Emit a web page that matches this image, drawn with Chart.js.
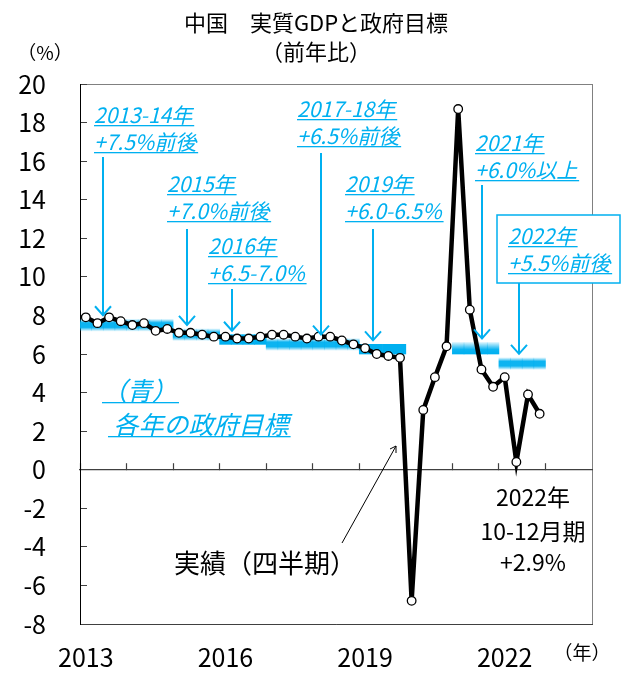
<!DOCTYPE html>
<html lang="ja">
<head>
<meta charset="utf-8">
<title>中国 実質GDPと政府目標</title>
<script src="https://cdn.jsdelivr.net/npm/chart.js@4.4.1/dist/chart.umd.min.js"></script>
<style>
  html, body { margin: 0; padding: 0; background: #fff; }
  #wrap { width: 628px; height: 680px; position: relative; }
</style>
</head>
<body>
<div id="wrap"><canvas id="chart"></canvas></div>
<script>
// 四半期の横軸（2023年は空き）
const years = ['2013', '2014', '2015', '2016', '2017', '2018', '2019', '2020', '2021', '2022', '2023'];
const quarterNames = ['Q1', 'Q2', 'Q3', 'Q4'];
const quarters = years.flatMap((y) => quarterNames.map((q) => y + q));
const xTickYears = ['2013', '2016', '2019', '2022'];

// 実質GDP 前年比（%）2013Q1〜2022Q4
const gdpValues = [
    7.9, 7.6, 7.9, 7.7,
    7.5, 7.6, 7.2, 7.3,
    7.1, 7.1, 7.0, 6.9,
    6.9, 6.8, 6.8, 6.9,
    7.0, 7.0, 6.9, 6.8,
    6.9, 6.9, 6.7, 6.5,
    6.3, 6.0, 5.9, 5.8,
    -6.8, 3.1, 4.8, 6.4,
    18.7, 8.3, 5.2, 4.3,
    4.8, 0.4, 3.9, 2.9,
];

// 政府目標（帯の下端・上端）
const targetYears = ['2013', '2014', '2015', '2016', '2017', '2018', '2019', '2020', '2021', '2022'];
const targetLow = [7.2, 7.2, 6.7, 6.5, 6.2, 6.2, 6.0, null, 6.0, 5.2];
const targetHigh = [7.8, 7.8, 7.3, 7.0, 6.8, 6.8, 6.5, null, 6.6, 5.8];
const targetType = ['about', 'about', 'about', 'range', 'about', 'about', 'range', null, 'min', 'about'];

const BLUE = '#00B0F0';
const JP = '"Noto Sans CJK JP", "Noto Sans", sans-serif';

const targetBars = quarters.map((q) => {
    const i = targetYears.indexOf(q.slice(0, 4));
    return i >= 0 && targetLow[i] != null ? [targetLow[i], targetHigh[i]] : null;
});

const bandColor = (c) => {
    const chart = c.chart;
    if (!chart.chartArea || !c.raw) return BLUE;
    const type = targetType[targetYears.indexOf(quarters[c.dataIndex].slice(0, 4))];
    if (type === 'range') return BLUE;
    const top = chart.scales.y.getPixelForValue(c.raw[1]);
    const bottom = chart.scales.y.getPixelForValue(c.raw[0]);
    const g = chart.ctx.createLinearGradient(0, top, 0, bottom);
    if (type === 'min') {
        g.addColorStop(0, 'rgba(0,176,240,0.15)');
        g.addColorStop(0.6, 'rgba(0,176,240,0.95)');
        g.addColorStop(1, 'rgba(0,176,240,1)');
    } else {
        g.addColorStop(0, 'rgba(0,176,240,0.12)');
        g.addColorStop(0.3, 'rgba(0,176,240,0.95)');
        g.addColorStop(0.7, 'rgba(0,176,240,0.95)');
        g.addColorStop(1, 'rgba(0,176,240,0.12)');
    }
    return g;
};

// 目標ラベル：文字位置と矢印のx（矢印の先は目標値から求める）
const goalNotes = [
    { lines: ['2013-14年', '+7.5%前後'], x: 94, y: 123, arrowX: 103, from: 157, year: '2013' },
    { lines: ['2015年', '+7.0%前後'], x: 167, y: 192, arrowX: 187, from: 229, year: '2015' },
    { lines: ['2016年', '+6.5-7.0%'], x: 208, y: 254, arrowX: 232, from: 289, year: '2016' },
    { lines: ['2017-18年', '+6.5%前後'], x: 297, y: 117, arrowX: 321, from: 153, year: '2017' },
    { lines: ['2019年', '+6.0-6.5%'], x: 345, y: 192, arrowX: 373, from: 229, year: '2019' },
    { lines: ['2021年', '+6.0%以上'], x: 475, y: 151, arrowX: 482, from: 185, year: '2021' },
    { lines: ['2022年', '+5.5%前後'], x: 508, y: 244, arrowX: 519, from: 283, year: '2022', box: [497, 215, 123, 68] },
];

const arrowDown = (ctx, x, y0, y1) => {
    ctx.beginPath();
    ctx.moveTo(x, y0);
    ctx.lineTo(x, y1);
    ctx.stroke();
    ctx.beginPath();
    ctx.moveTo(x - 8, y1 - 9);
    ctx.lineTo(x, y1);
    ctx.lineTo(x + 8, y1 - 9);
    ctx.stroke();
};

const underlined = (ctx, text, x, y) => {
    ctx.fillText(text, x, y);
    const w = ctx.measureText(text).width;
    ctx.fillRect(x, y + 2, w + 2, 1.3);
};

const framePlugin = {
    id: 'frame',
    beforeDraw(chart) {
        const { ctx, chartArea: a } = chart;
        ctx.save();
        ctx.strokeStyle = '#808080';
        ctx.lineWidth = 1;
        ctx.strokeRect(a.left + 0.5, a.top + 0.5, a.right - a.left, a.bottom - a.top);
        ctx.restore();
    },
};

const notesPlugin = {
    id: 'notes',
    afterDraw(chart) {
        const ctx = chart.ctx;
        const ys = chart.scales.y;
        ctx.save();

        ctx.fillStyle = '#000';
        ctx.textAlign = 'center';
        ctx.font = `22px ${JP}`;
        ctx.fillText('中国　実質GDPと政府目標', 316, 31);
        ctx.fillText('（前年比）', 316, 60);
        ctx.font = `19px ${JP}`;
        ctx.fillText('（%）', 45, 60);
        ctx.fillText('（年）', 582, 660);

        ctx.font = `23px ${JP}`;
        ctx.fillText('2022年', 533, 506);
        ctx.fillText('10-12月期', 533, 540);
        ctx.fillText('+2.9%', 533, 571);

        ctx.textAlign = 'left';
        ctx.font = `26px ${JP}`;
        ctx.fillText('実績（四半期）', 174, 573);

        // 実績への矢印
        ctx.strokeStyle = '#000';
        ctx.lineWidth = 1;
        ctx.beginPath();
        ctx.moveTo(342, 543);
        ctx.lineTo(396, 446);
        ctx.moveTo(390, 449);
        ctx.lineTo(396, 446);
        ctx.lineTo(396, 453);
        ctx.stroke();

        // 政府目標の注記
        ctx.strokeStyle = BLUE;
        ctx.fillStyle = BLUE;
        goalNotes.forEach((n) => {
            if (n.box) {
                ctx.save();
                ctx.fillStyle = '#fff';
                ctx.fillRect(n.box[0], n.box[1], n.box[2], n.box[3]);
                ctx.lineWidth = 1.5;
                ctx.strokeRect(n.box[0], n.box[1], n.box[2], n.box[3]);
                ctx.restore();
            }
            ctx.font = `italic 21px ${JP}`;
            n.lines.forEach((t, k) => underlined(ctx, t, n.x, n.y + k * 27));
            const i = targetYears.indexOf(n.year);
            const tip = ys.getPixelForValue(targetHigh[i]) - 4;
            ctx.lineWidth = 2;
            arrowDown(ctx, n.arrowX, n.from, tip);
        });

        ctx.font = `italic 25px ${JP}`;
        underlined(ctx, '（青）', 102, 400);
        underlined(ctx, ' 各年の政府目標', 108, 434);

        ctx.restore();
    },
};

new Chart(document.getElementById('chart'), {
    type: 'line',
    data: {
        labels: quarters,
        datasets: [
            {
                type: 'line',
                label: '実績（四半期）',
                data: gdpValues,
                borderColor: '#000',
                borderWidth: 4.5,
                pointRadius: 4.3,
                pointBackgroundColor: '#fff',
                pointBorderColor: '#000',
                pointBorderWidth: 1.3,
                tension: 0,
                order: 1,
                xAxisID: 'x',
                yAxisID: 'y',
            },
            {
                type: 'bar',
                label: '政府目標',
                data: targetBars,
                backgroundColor: bandColor,
                borderWidth: 0,
                barPercentage: 1,
                categoryPercentage: 1,
                order: 2,
                xAxisID: 'x',
                yAxisID: 'y',
            },
        ],
    },
    options: {
        responsive: true,
        maintainAspectRatio: false,
        animation: false,
        layout: { padding: { top: 84, right: 36, left: 0, bottom: 0 } },
        plugins: { legend: { display: false }, tooltip: { enabled: false } },
        scales: {
            x: {
                type: 'category',
                position: { y: 0 },
                offset: true,
                grid: {
                    offset: true,
                    drawOnChartArea: false,
                    tickLength: -7,
                    tickWidth: 1.2,
                    tickColor: (c) => (c.index % 4 === 0 ? '#404040' : 'rgba(0,0,0,0)'),
                },
                border: { color: '#404040', width: 1.2 },
                ticks: { display: false, autoSkip: false },
            },
            x2: {
                type: 'category',
                position: 'bottom',
                offset: true,
                grid: { drawOnChartArea: false, drawTicks: false, offset: true },
                border: { color: '#404040', width: 1 },
                ticks: {
                    autoSkip: false,
                    maxRotation: 0,
                    padding: 18,
                    color: '#000',
                    font: { family: JP, size: 25 },
                    callback: function (v) {
                        const l = this.getLabelForValue(v);
                        return l.endsWith('Q1') && xTickYears.includes(l.slice(0, 4)) ? l.slice(0, 4) : '';
                    },
                },
                afterFit: (s) => { s.height = 50; },
            },
            y: {
                type: 'linear',
                position: 'left',
                min: -8,
                max: 20,
                ticks: { stepSize: 2, padding: 41, color: '#000', font: { family: JP, size: 25 } },
                grid: { drawOnChartArea: false, tickLength: -7, tickColor: '#404040' },
                border: { color: '#000', width: 1 },
                afterFit: (s) => { s.width = 80; },
            },
        },
    },
    plugins: [framePlugin, notesPlugin],
});
</script>
</body>
</html>
